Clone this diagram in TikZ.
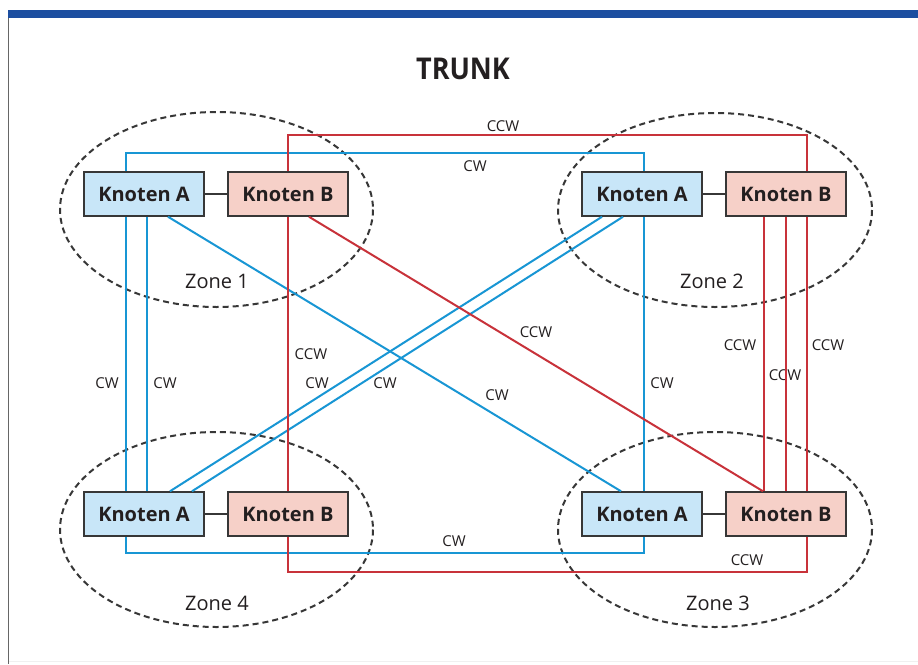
\documentclass[tikz,border=0pt]{standalone}
\usepackage{fontspec}
\setmainfont{Open Sans}
\usetikzlibrary{calc}
\definecolor{barblue}{RGB}{28,78,160}
\definecolor{lblue}{RGB}{24,150,212}
\definecolor{lred}{RGB}{200,50,58}
\definecolor{fillA}{RGB}{200,230,248}
\definecolor{fillB}{RGB}{246,208,200}
\definecolor{txt}{RGB}{35,31,32}
\definecolor{edge}{RGB}{55,55,55}
\tikzset{
  knot/.style={draw=edge, line width=1.5pt, minimum width=120pt, minimum height=44pt, inner sep=0pt,
    font=\fontsize{20}{24}\selectfont\bfseries, text=txt},
  knotA/.style={knot, fill=fillA},
  knotB/.style={knot, fill=fillB},
  bl/.style={draw=lblue, line width=2pt},
  rd/.style={draw=lred, line width=2pt},
  zone/.style={draw=edge, line width=2pt, dash pattern=on 6pt off 4pt},
  zlab/.style={font=\fontsize{20}{24}\selectfont, text=txt},
  lab/.style={font=\fontsize{15}{18}\selectfont, text=txt, inner sep=1pt},
  link/.style={draw=edge, line width=1.6pt}
}
\begin{document}
\begin{tikzpicture}[x=1pt,y=-1pt]
\useasboundingbox (0,0) rectangle (918,664);
\fill[white] (0,0) rectangle (918,664);
% frame
\fill[barblue] (8,10) rectangle (918,18);
\draw[gray!80!black, line width=1.3pt] (8.5,18) -- (8.5,664);
\draw[gray!12, line width=1pt] (9,661) -- (918,661);
% title
\node[font=\fontsize{30}{34}\selectfont\bfseries, text=txt] (title) at (463,69) {\scalebox{0.9}[1]{TRUNK}};
% zones
\draw[zone] (216.5,209.5) ellipse [x radius=156.5, y radius=97.5];
\draw[zone] (715,210) ellipse [x radius=157, y radius=97];
\draw[zone] (216.5,529.5) ellipse [x radius=156.5, y radius=97.5];
\draw[zone] (715,529.5) ellipse [x radius=157, y radius=97.5];
\node[zlab] (z1) at (217,281) {Zone 1};
\node[zlab] (z2) at (712,281) {Zone 2};
\node[zlab] (z4) at (217,603) {Zone 4};
\node[zlab] (z3) at (718,603) {Zone 3};
% nodes
\node[knotA] (A1) at (144,194) {Knoten A};
\node[knotB] (B1) at (288,194) {Knoten B};
\node[knotA] (A2) at (642,194) {Knoten A};
\node[knotB] (B2) at (786,194) {Knoten B};
\node[knotA] (A4) at (144,514) {Knoten A};
\node[knotB] (B4) at (288,514) {Knoten B};
\node[knotA] (A3) at (642,514) {Knoten A};
\node[knotB] (B3) at (786,514) {Knoten B};
% labels
\node[lab] (l1) at (503,126) {CCW};
\node[lab] (l2) at (475,166) {CW};
\node[lab] (l3) at (107,383) {CW};
\node[lab] (l4) at (165,383) {CW};
\node[lab] (l5) at (311,354) {CCW};
\node[lab] (l6) at (317,383) {CW};
\node[lab] (l7) at (385,383) {CW};
\node[lab] (l8) at (497,395) {CW};
\node[lab] (l9) at (536,332) {CCW};
\node[lab] (l10) at (662,383) {CW};
\node[lab] (l11) at (740,345) {CCW};
\node[lab] (l12) at (785,375) {CCW};
\node[lab] (l13) at (828,345) {CCW};
\node[lab] (l14) at (454,541) {CW};
\node[lab] (l15) at (747,560) {CCW};
% links A-B
\draw[link] (A1.east) -- (B1.west);
\draw[link] (A2.east) -- (B2.west);
\draw[link] (A4.east) -- (B4.west);
\draw[link] (A3.east) -- (B3.west);
% blue trunks
\draw[bl] ($(A1.north)+(-18,0)$) -- ++(0,-18) -| ($(A2.north)+(2,0)$);
\draw[bl] ($(A1.south)+(-18,0)$) -- ($(A4.north)+(-18,0)$);
\draw[bl] ($(A1.south)+(3,0)$) -- ($(A4.north)+(3,0)$);
\draw[bl] ($(A1.south)+(24,0)$) -- ($(A3.north)+(-21,0)$);
\draw[bl] ($(A2.south)+(-40,0)$) -- ($(A4.north)+(26,0)$);
\draw[bl] ($(A2.south)+(-19,0)$) -- ($(A4.north)+(48,0)$);
\draw[bl] ($(A2.south)+(2,0)$) -- ($(A3.north)+(2,0)$);
\draw[bl] ($(A4.south)+(-18,0)$) -- ++(0,16) -| ($(A3.south)+(2,0)$);
% red trunks
\draw[rd] (B1.north) -- ++(0,-36) -| ($(B2.north)+(21,0)$);
\draw[rd] (B1.south) -- (B4.north);
\draw[rd] ($(B1.south)+(21,0)$) -- ($(B3.north)+(-23,0)$);
\draw[rd] ($(B2.south)+(-22,0)$) -- ($(B3.north)+(-22,0)$);
\draw[rd] (B2.south) -- (B3.north);
\draw[rd] ($(B2.south)+(21,0)$) -- ($(B3.north)+(21,0)$);
\draw[rd] (B4.south) -- ++(0,35) -| ($(B3.south)+(21,0)$);
\end{tikzpicture}
\end{document}
